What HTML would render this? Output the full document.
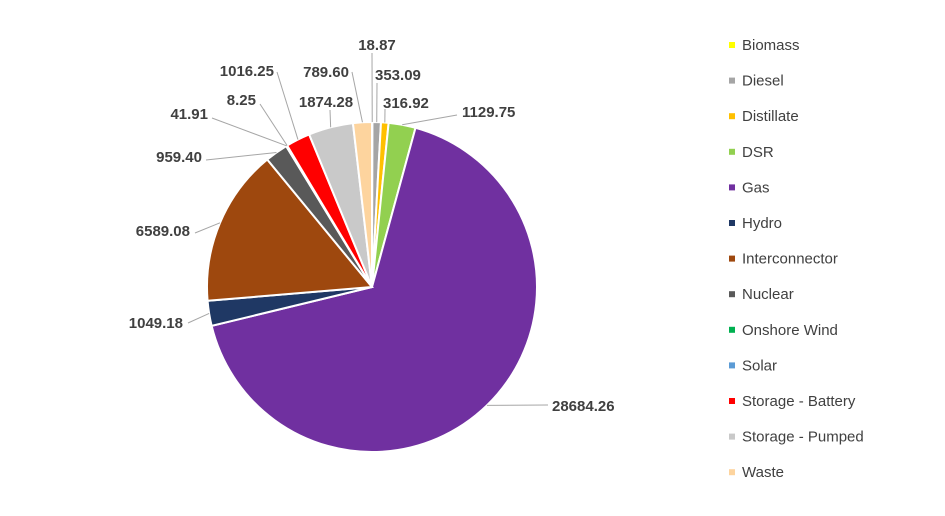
<!DOCTYPE html>
<html><head><meta charset="utf-8"><style>
body{margin:0;background:#fff;}
svg{display:block;font-family:"Liberation Sans",Arial,sans-serif;}
</style></head><body>
<svg id="chart" width="945" height="516" viewBox="0 0 945 516">
<g id="slices"></g>
<g id="leaders"></g>
<g id="labels"></g>
<g id="legend"></g>
</svg>
<script>
const categories=["Biomass","Diesel","Distillate","DSR","Gas","Hydro","Interconnector","Nuclear","Onshore Wind","Solar","Storage - Battery","Storage - Pumped","Waste"];
const values=[18.87,353.09,316.92,1129.75,28684.26,1049.18,6589.08,959.40,41.91,8.25,1016.25,1874.28,789.60];
const valueLabels=["18.87","353.09","316.92","1129.75","28684.26","1049.18","6589.08","959.40","41.91","8.25","1016.25","1874.28","789.60"];
const colors=["#ffff00","#a5a5a5","#ffc000","#92d050","#7030a0","#1f3864","#9e480e","#595959","#00b050","#5b9bd5","#ff0000","#c9c9c9","#fdd49e"];
const labelPos=[[377,50,"middle"],[375,80,"start"],[383,108,"start"],[462,117,"start"],[552,411,"start"],[183,328,"end"],[190,236,"end"],[202,162,"end"],[208,119,"end"],[256,105,"end"],[274,76,"end"],[326,107,"middle"],[349,77,"end"]];
const linePos=[[372,53],[377,83],[385,109],[457,115],[548,405],[188,323],[195,233],[206,160],[212,118],[260,104],[277,72],[330,110],[352,72]];
const NS="http://www.w3.org/2000/svg";
const cx=372,cy=287,R=165;
const total=values.reduce((a,b)=>a+b,0);
function pt(a,r){return [cx+r*Math.sin(a),cy-r*Math.cos(a)];}
let ang=0;
const gS=document.getElementById('slices'),gL=document.getElementById('leaders'),gT=document.getElementById('labels'),gG=document.getElementById('legend');
values.forEach((v,i)=>{
  const a0=ang,a1=ang+v/total*2*Math.PI;ang=a1;
  const p0=pt(a0,R),p1=pt(a1,R);
  const large=(a1-a0)>Math.PI?1:0;
  const p=document.createElementNS(NS,'path');
  p.setAttribute('d',`M${cx},${cy}L${p0[0]},${p0[1]}A${R},${R} 0 ${large} 1 ${p1[0]},${p1[1]}Z`);
  p.setAttribute('fill',colors[i]);p.setAttribute('stroke','#fff');p.setAttribute('stroke-width','2');
  
  
  gS.appendChild(p);
  const m=pt((a0+a1)/2,R);
  const l=document.createElementNS(NS,'line');
  l.setAttribute('x1',linePos[i][0]);l.setAttribute('y1',linePos[i][1]);
  l.setAttribute('x2',m[0]);l.setAttribute('y2',m[1]);
  l.setAttribute('stroke','#a6a6a6');l.setAttribute('stroke-width','1');
  
  
  gL.appendChild(l);
  const t=document.createElementNS(NS,'text');
  t.setAttribute('x',labelPos[i][0]);t.setAttribute('y',labelPos[i][1]);
  t.setAttribute('text-anchor',labelPos[i][2]);
  t.setAttribute('font-size','15');t.setAttribute('font-weight','bold');t.setAttribute('fill','#404040');
  t.textContent=valueLabels[i];
  
  
  gT.appendChild(t);
  const y=45+i*35.6;
  const r=document.createElementNS(NS,'rect');
  r.setAttribute('x',729);r.setAttribute('y',y-3);r.setAttribute('width',6);r.setAttribute('height',6);r.setAttribute('fill',colors[i]);
  
  
  gG.appendChild(r);
  const lt=document.createElementNS(NS,'text');
  lt.setAttribute('x',742);lt.setAttribute('y',y+5);lt.setAttribute('font-size','15');lt.setAttribute('fill','#404040');
  lt.textContent=categories[i];
  
  
  gG.appendChild(lt);
});
</script>
</body></html>
